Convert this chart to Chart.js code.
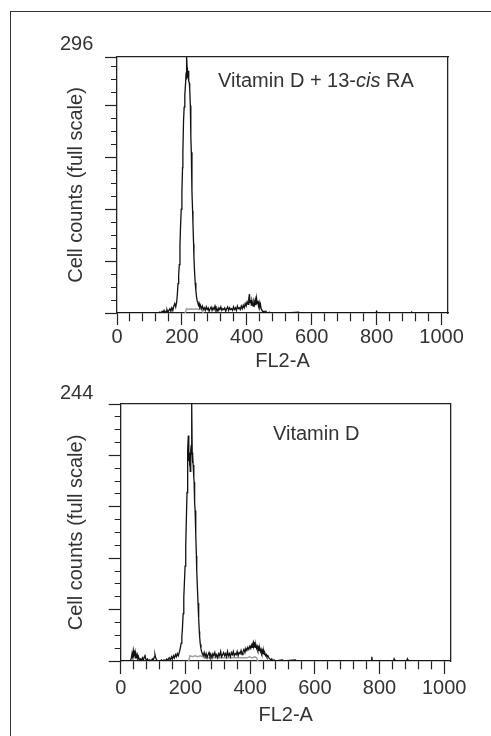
<!DOCTYPE html>
<html>
<head>
<meta charset="utf-8">
<script src="https://cdn.jsdelivr.net/npm/chart.js@4/dist/chart.umd.min.js"></script>
<style>
html,body{margin:0;padding:0;background:#fff;width:491px;height:736px;overflow:hidden;}
#frame{position:absolute;left:10px;top:11px;width:560px;height:800px;border:1px solid #333;box-sizing:border-box;}
canvas{position:absolute;left:0;}
.note{position:absolute;font-family:'Liberation Sans',Arial,sans-serif;font-size:20px;line-height:20px;color:#333;white-space:nowrap;}
</style>
</head>
<body>
<div id="frame"></div>
<canvas id="c1" width="491" height="380" style="top:0px"></canvas>
<canvas id="c2" width="491" height="366" style="top:370px"></canvas>
<div class="note" style="left:218px;top:70px">Vitamin D + 13-<i>cis</i> RA</div>
<div class="note" style="left:273px;top:423px">Vitamin D</div>
<script>
// ---------- data ----------
const xTicks = [0,40,80,120,160,200,240,280,320,360,400,440,480,520,560,600,640,680,720,760,800,840,880,920,960,1000];
const xMajor = [0,200,400,600,800,1000];
const xTickLabels = ['0','200','400','600','800','1000'];
const xTitle = 'FL2-A';
const yTitle = 'Cell counts (full scale)';

// top panel: Vitamin D + 13-cis RA
const topYMax = 296;
const topYLabel = '296';
const topYTicks = [0,15,30,45,60,75,90,105,120,135,150,165,180,195,210,225,240,255,270,285,296];
const topYMajor = [0,60,120,180,240,296];
const topChannels = [
  0,128,
  132,136,139,142,145,148,151,154,157,160,163,166,169,172,175,178,181,184,
  186,188,190,192,194,196,198,200,202,203,205,207,209,211,213,214,215,216,217,219,
  221,223,224,226,227,228,229,231,233,234,236,237,239,241,243,245,247,249,251,253,255,257,
  260,263,266,269,272,275,278,281,284,287,290,293,296,299,302,305,308,311,314,317,
  320,323,326,329,332,335,338,341,344,347,350,353,356,359,362,365,368,371,374,377,380,383,386,
  389,392,395,398,401,404,406,408,410,412,414,416,418,420,422,424,426,428,430,432,434,436,438,440,442,444,
  447,450,453,456,459,462,470,476,520,560,564,700,798,800,803,906,908,911,1020
];
const topCounts = [
  0,0,
  1,0,2,1,3,0,2,4,1,3,5,2,6,3,8,11,7,13,
  22,34,44,56,78,102,120,140,168,186,222,238,252,264,278,270,296,284,272,280,
  268,266,260,240,225,204,186,140,118,104,80,65,48,35,26,19,14,12,9,11,7,9,
  5,8,4,6,3,7,4,6,2,5,7,3,6,4,8,3,5,2,6,4,
  7,3,5,4,6,2,5,7,3,6,4,5,3,7,4,6,3,8,5,6,4,8,5,
  9,6,11,8,13,10,16,22,12,15,9,14,11,8,13,10,15,9,17,11,14,8,12,7,10,5,
  3,1,2,0,2,0,1,0,0,1,0,0,0,2,0,0,1,0,0
];
const topGrayChannels = [210,214,220,228,236,244,252,260,266];
const topGrayCounts   = [0,5,4,5,4,5,4,5,0];

// bottom panel: Vitamin D
const botYMax = 244;
const botYLabel = '244';
const botYTicks = [0,12.2,24.4,36.6,48.8,61,73.2,85.4,97.6,109.8,122,134.2,146.4,158.6,170.8,183,195.2,207.4,219.6,231.8,244];
const botYMajor = [0,48.8,97.6,146.4,195.2,244];
const botChannels = [
  0,30,
  33,35,37,39,41,43,45,47,49,51,53,55,58,61,64,67,70,73,75,77,
  80,83,86,90,94,98,101,104,106,108,111,115,122,126,130,134,138,142,146,150,
  154,157,160,163,166,169,172,175,178,181,
  184,187,189,191,193,195,197,199,201,203,205,206,207,208,209,210,211,212,213,214,
  215,216,217,218,219,220,221,222,223,224,226,227,228,229,230,232,234,235,237,239,
  241,243,244,246,248,250,252,
  255,258,261,264,267,270,273,276,279,282,285,288,291,294,297,300,303,306,309,312,
  315,318,321,324,327,330,333,336,339,342,345,348,351,354,357,360,363,366,369,372,375,378,
  381,384,387,390,393,396,399,402,404,406,408,410,412,414,416,418,420,422,424,426,
  428,430,432,434,436,438,440,442,444,446,448,450,452,455,458,461,
  464,467,470,474,478,500,503,540,543,600,774,776,778,843,845,847,884,886,888,1020
];
const botCounts = [
  0,0,
  3,7,4,10,6,8,3,7,4,6,2,4,1,2,0,3,1,4,6,2,
  1,2,0,1,0,2,1,4,6,3,1,0,0,1,0,1,0,2,1,3,
  1,4,2,5,3,6,4,7,5,8,
  12,17,23,32,45,60,75,90,110,135,160,172,185,200,214,205,190,198,185,195,
  180,192,200,205,196,244,198,188,195,186,174,170,162,150,143,120,100,86,70,55,
  40,28,23,16,12,9,7,
  5,8,4,7,3,6,8,4,6,3,7,5,8,4,6,3,7,5,9,4,
  6,8,5,7,4,9,5,7,4,8,6,9,5,7,6,9,5,8,7,10,6,9,
  11,8,12,10,13,11,14,12,15,13,16,18,14,16,13,15,12,14,11,13,
  10,12,9,11,8,10,7,9,6,7,5,6,4,5,3,2,
  1,2,0,1,0,1,0,1,0,0,0,4,0,0,2,0,0,2,0,0
];
const botGrayChannels = [210,214,222,230,238,246,254,258,390,398,406,414,420,424];
const botGrayCounts   = [0,5,4,5,4,5,4,3,3,4,3,4,3,0];

// ---------- styling ----------
const FONT = "'Liberation Sans', Arial, sans-serif";
const FSIZE = 20;
const TXT = '#333';
const AX = '#222';

function build(canvasId, g) {
  const canvas = document.getElementById(canvasId);
  const W = canvas.width, H = canvas.height;
  const toXY = (cs, vs) => cs.map((c, i) => ({x: c, y: vs[i]}));
  return new Chart(canvas, {
    type: 'line',
    data: {
      datasets: [
        {data: toXY(g.ch, g.cnt), borderColor: '#111', borderWidth: 1.3, pointRadius: 0, tension: 0, fill: false},
        {data: toXY(g.gch, g.gcnt), borderColor: '#a0a0a0', borderWidth: 1.5, pointRadius: 0, tension: 0, fill: false}
      ]
    },
    options: {
      responsive: false, animation: false, devicePixelRatio: 1,
      events: [],
      layout: {padding: {left: 0, top: g.area.top, right: W - g.area.right, bottom: H - g.area.bottom - g.xAxisH}},
      plugins: {legend: {display: false}, tooltip: {enabled: false}},
      scales: {
        x: {
          type: 'linear', position: 'bottom', min: 0, max: 1020,
          afterBuildTicks: s => { s.ticks = xTicks.map(v => ({value: v})); },
          afterFit: s => { s.height = g.xAxisH; },
          border: {display: true, color: AX, width: 1.3},
          grid: {
            display: true, drawOnChartArea: false, drawTicks: true,
            tickLength: g.xTickLen, tickColor: AX, tickWidth: 1.2,
            tickBorderDash: c => (c.tick && xMajor.includes(c.tick.value)) ? [] : [g.xMinorLen, 40]
          },
          ticks: {
            autoSkip: false, maxRotation: 0, minRotation: 0, padding: g.xPad, color: TXT,
            font: {family: FONT, size: FSIZE},
            callback: v => { const k = xMajor.indexOf(v); return k >= 0 ? xTickLabels[k] : ''; }
          },
          title: {display: true, text: xTitle, color: TXT, font: {family: FONT, size: FSIZE}, padding: {top: 0, bottom: g.xTitlePad}}
        },
        y: {
          type: 'linear', position: 'left', min: 0, max: g.yMax,
          afterBuildTicks: s => { s.ticks = g.yTicks.map(v => ({value: v})); },
          afterFit: s => { s.width = g.area.left; },
          border: {display: true, color: AX, width: 1.3},
          grid: {
            display: true, drawOnChartArea: false, drawTicks: true,
            tickLength: 12, tickColor: AX, tickWidth: 1.2,
            tickBorderDash: c => (c.tick && g.yMajor.includes(c.tick.value)) ? [] : [0, 12 - g.yMinorLen, 40]
          },
          ticks: {
            autoSkip: false, padding: g.yPad, labelOffset: g.yLabelOffset, color: TXT,
            font: {family: FONT, size: FSIZE},
            callback: v => (v === g.yMax ? g.yLabel : '')
          },
          title: {display: true, text: yTitle, color: TXT, font: {family: FONT, size: FSIZE}, padding: {top: g.yTitlePad, bottom: 0}}
        },
        xTop: {
          type: 'linear', position: 'top', min: 0, max: 1020,
          afterFit: s => { s.height = 0; },
          border: {display: true, color: AX, width: 1.3},
          grid: {display: true, drawOnChartArea: false, drawTicks: false},
          ticks: {display: false}
        },
        yRight: {
          type: 'linear', position: 'right', min: 0, max: g.yMax,
          afterFit: s => { s.width = 0; },
          border: {display: true, color: AX, width: 1.3},
          grid: {display: true, drawOnChartArea: false, drawTicks: false},
          ticks: {display: false}
        }
      }
    }
  });
}

build('c1', {
  ch: topChannels, cnt: topCounts, gch: topGrayChannels, gcnt: topGrayCounts,
  yMax: topYMax, yTicks: topYTicks, yMajor: topYMajor, yLabel: topYLabel,
  area: {left: 117, right: 448, top: 57, bottom: 313},
  xAxisH: 64, xTickLen: 12, xMinorLen: 8, xPad: 0, xTitlePad: 4,
  yMinorLen: 6, yPad: 11.7, yLabelOffset: -13, yTitlePad: 64.5
});
build('c2', {
  ch: botChannels, cnt: botCounts, gch: botGrayChannels, gcnt: botGrayCounts,
  yMax: botYMax, yTicks: botYTicks, yMajor: botYMajor, yLabel: botYLabel,
  area: {left: 120.7, right: 450.7, top: 34, bottom: 291},
  xAxisH: 70, xTickLen: 13, xMinorLen: 8, xPad: 2, xTitlePad: 4,
  yMinorLen: 6, yPad: 15.4, yLabelOffset: -11, yTitlePad: 64.5
});
</script>
</body>
</html>
